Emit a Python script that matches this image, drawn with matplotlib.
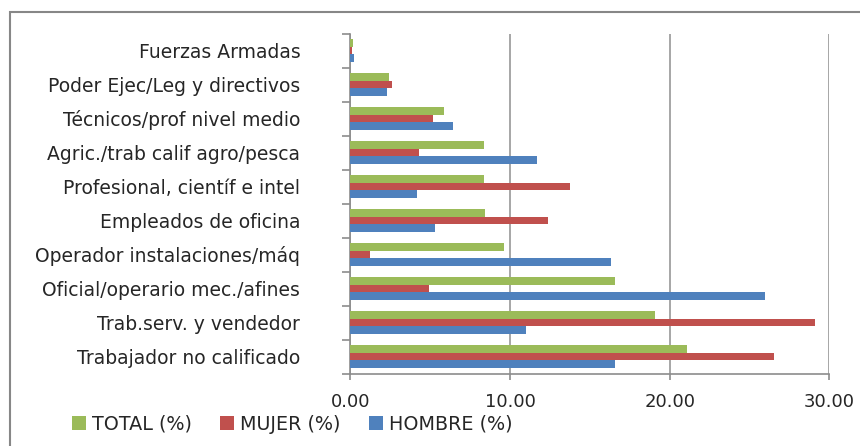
import matplotlib.pyplot as plt
import numpy as np
from matplotlib.patches import Rectangle
from matplotlib.ticker import FixedLocator

plt.rcParams['font.family'] = ['DejaVu Sans']

# Datos (de arriba hacia abajo, como en la imagen)
categorias = ['Fuerzas Armadas', 'Poder Ejec/Leg y directivos', 'Técnicos/prof nivel medio',
              'Agric./trab calif agro/pesca', 'Profesional, científ e intel', 'Empleados de oficina',
              'Operador instalaciones/máq', 'Oficial/operario mec./afines', 'Trab.serv. y vendedor',
              'Trabajador no calificado']
total = [0.15, 2.44, 5.89, 8.37, 8.37, 8.45, 9.60, 16.60, 19.10, 21.06]
mujer = [0.08, 2.59, 5.16, 4.30, 13.76, 12.40, 1.23, 4.95, 29.12, 26.55]
hombre = [0.23, 2.30, 6.45, 11.67, 4.16, 5.32, 16.32, 25.99, 11.02, 16.60]
series = [('TOTAL (%)', total, '#9BBB59'),
          ('MUJER (%)', mujer, '#C0504D'),
          ('HOMBRE (%)', hombre, '#4F81BD')]

n = len(categorias)
y = np.arange(n)[::-1]  # la primera categoría arriba
h = 0.225

fig = plt.figure(figsize=(8.6, 4.46), dpi=100)
ax = fig.add_axes([350.3 / 860, 1 - 373.5 / 446, 479 / 860, 340 / 446])

for i, (nombre, vals, color) in enumerate(series):
    ax.barh(y + (1 - i) * h, vals, height=h, color=color, label=nombre, zorder=3)

ax.set_xlim(0, 30)
ax.set_ylim(-0.5, n - 0.5)
ax.set_xticks([0, 10, 20, 30])
ax.set_xticklabels(['0.00', '10.00', '20.00', '30.00'], fontsize=13, color='#262626')
ax.set_yticks(y)
ax.set_yticklabels(categorias, fontsize=13.5, color='#262626')
ax.yaxis.set_minor_locator(FixedLocator(np.arange(-0.5, n, 1)))
ax.tick_params(axis='y', which='major', length=0, pad=36)
ax.tick_params(axis='y', which='minor', length=6, width=1.2, color='#8C8C8C')
ax.tick_params(axis='x', length=4, width=1.2, color='#8C8C8C', pad=10)

ax.grid(axis='x', color='#A6A6A6', linewidth=1.4, zorder=0)
for lado in ['top', 'right']:
    ax.spines[lado].set_visible(False)
for lado in ['left', 'bottom']:
    ax.spines[lado].set_color('#8C8C8C')
    ax.spines[lado].set_linewidth(1.2)

leg = fig.legend(loc='center left', bbox_to_anchor=(72 / 860, 1 - 424 / 446), ncol=3,
                 frameon=False, fontsize=13.8, handlelength=0.72, handleheight=0.72,
                 handletextpad=0.3, columnspacing=1.5, borderaxespad=0, borderpad=0)
for t in leg.get_texts():
    t.set_color('#262626')

# Marco del gráfico (cortado a la derecha y abajo)
fig.patches.append(Rectangle((10 / 860, -0.1), 1.2, 1.1 - 12 / 446, transform=fig.transFigure,
                             fill=False, edgecolor='#878787', linewidth=1.5))

plt.savefig('out.png', dpi=100)
